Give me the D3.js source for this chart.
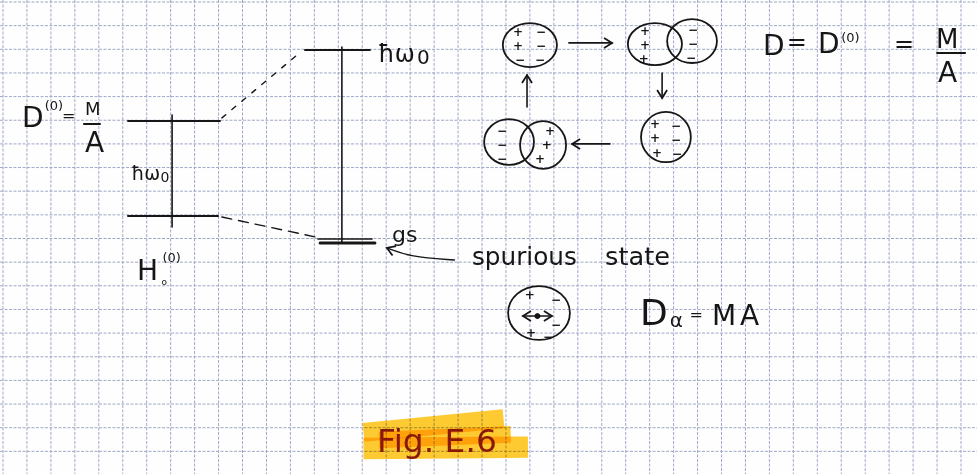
<!DOCTYPE html>
<html>
<head>
<meta charset="utf-8">
<script src="https://cdn.jsdelivr.net/npm/d3@7"></script>
<style>
  body { margin: 0; background: #fff; }
  text { font-family: "DejaVu Sans", "Noto Sans", sans-serif; fill: #161616; }
</style>
</head>
<body>
<svg id="chart" width="977" height="474"></svg>
<script>
// All values are in squares of the grid paper (x to the right, y downwards)

// energy levels of the two schemes
const levels = [
  { x1: 5.22, x2: 9.06, y: 5.03, weight: 2 },     // 1ħω0 of H0(0)
  { x1: 5.22, x2: 8.98, y: 9.05, weight: 2 },     // 0ħω of H0(0)
  { x1: 12.61, x2: 15.32, y: 2.03, weight: 2 },   // ħω0 after shift
  { x1: 13.15, x2: 15.41, y: 10.02, weight: 1.5 },// gs
  { x1: 13.24, x2: 15.53, y: 10.19, weight: 3 }   // gs (double)
];
// gaps ħω0 between levels
const gaps = [
  { x: 7.06, y1: 4.78, y2: 9.51 },
  { x: 14.15, y1: 1.90, y2: 10.19 }
];
// dashed connectors between the two schemes
const connectors = [
  { from: [9.14, 4.90], to: [12.28, 2.24], dash: "5,8" },
  { from: [9.14, 9.09], to: [13.07, 9.94], dash: "10,7" }
];

// the oscillating charge distribution cycle
const circles = [
  { cx: 22.00, cy: 1.82, rx: 1.13, ry: 0.93 },
  { cx: 27.22, cy: 1.78, rx: 1.13, ry: 0.89 },
  { cx: 28.77, cy: 1.65, rx: 1.04, ry: 0.93 },
  { cx: 27.68, cy: 5.71, rx: 1.04, ry: 1.06 },
  { cx: 21.13, cy: 5.92, rx: 1.04, ry: 0.97 },
  { cx: 22.55, cy: 6.05, rx: 0.96, ry: 1.01 },
  { cx: 22.38, cy: 13.15, rx: 1.29, ry: 1.14 }   // spurious state
];
const charges = [
  ["+", 21.50, 1.27], ["+", 21.50, 1.86], ["−", 21.59, 2.45],
  ["−", 22.46, 1.27], ["−", 22.46, 1.86], ["−", 22.42, 2.45],
  ["+", 26.81, 1.23], ["+", 26.81, 1.82], ["+", 26.76, 2.41],
  ["−", 28.81, 1.18], ["−", 28.81, 1.78], ["−", 28.73, 2.37],
  ["+", 27.22, 5.16], ["+", 27.22, 5.75], ["+", 27.31, 6.38],
  ["−", 28.10, 5.24], ["−", 28.10, 5.83], ["−", 28.14, 6.43],
  ["−", 20.84, 5.45], ["−", 20.84, 6.05], ["−", 20.84, 6.64],
  ["+", 22.84, 5.45], ["+", 22.71, 6.05], ["+", 22.42, 6.64],
  ["+", 22.00, 12.39], ["−", 23.09, 12.60], ["−", 23.09, 13.66],
  ["+", 22.05, 14.00], ["−", 22.76, 14.16]
];
const cycleArrows = [
  { from: [23.63, 1.73], to: [25.43, 1.73] },
  { from: [27.52, 3.00], to: [27.52, 4.06] },
  { from: [25.34, 6.00], to: [23.76, 6.00] },
  { from: [21.88, 4.44], to: [21.88, 3.09] }
];
// double arrow inside the spurious state
const dipole = { x1: 21.71, x2: 22.92, y: 13.28 };
// arrow from "spurious state" to gs
const pointer = [[18.85, 10.91], [16.99, 10.78], [16.03, 10.40]];

// fraction bars
const bars = [
  { x1: 3.38, x2: 4.05, y: 5.16 },
  { x1: 39.00, x2: 40.17, y: 2.16 }
];

// text pieces: text, x, baseline y, size class
const labels = [
  ["D", 0.79, 5.29, "big"], ["(0)", 1.74, 4.57, "sup"], ["=", 2.46, 5.03, "eq"],
  ["M", 3.42, 4.78, "num"], ["A", 3.42, 6.34, "den"],
  ["ħω", 5.35, 7.53, "hw"], ["0", 6.58, 7.61, "hw0"],
  ["H", 5.60, 11.75, "den"], ["o", 6.62, 11.97, "sub"], ["(0)", 6.66, 10.99, "sup"],
  ["ħω", 15.66, 2.54, "hwR"], ["0", 17.29, 2.62, "hwR0"],
  ["gs", 16.24, 10.15, "gs"],
  ["D", 26.60, 13.66, "huge"], ["α", 27.84, 13.74, "alpha"], ["=", 28.66, 13.45, "eq"],
  ["M", 29.60, 13.66, "den"], ["A", 30.77, 13.66, "den"],
  ["D", 31.73, 2.24, "den"], ["=", 32.72, 2.03, "eqW"], ["D", 34.03, 2.16, "den"],
  ["(0)", 35.00, 1.69, "sup"], ["=", 37.20, 2.11, "eqW"],
  ["M", 38.96, 1.95, "numR"], ["A", 39.04, 3.38, "den"]
];
const words = [
  ["spurious", 19.58, 11.12, 4.38], ["state", 25.14, 11.12, 2.71]
];
const caption = ["Fig. E.6", 15.62, 19.03, 5.0];
const highlight = [
  { from: [15.05, 18.20], to: [20.90, 17.62], w: 0.8 },
  { from: [15.05, 18.88], to: [21.92, 18.82], w: 0.9 },
  { from: [15.70, 18.52], to: [21.20, 18.28], w: 0.7 }
];

const sizes = {
  big: 28, sup: 13, eq: 16, num: 18, den: 28, hw: 19, hw0: 14, sub: 9,
  hwR: 24, hwR0: 20, gs: 22, huge: 36, alpha: 20, eqW: 24, numR: 26
};

const width = 977, height = 474;
const cellW = 23.95, cellH = 23.65;
const gx = d3.scaleLinear().domain([0, 40]).range([3, 3 + 40 * cellW]);
const gy = d3.scaleLinear().domain([0, 20]).range([2, 2 + 20 * cellH]);
const ink = "#161616";

const svg = d3.select("#chart");
svg.append("rect").attr("width", width).attr("height", height).attr("fill", "#fefefe");

// arrowhead (open chevron)
svg.append("defs").append("marker")
    .attr("id", "head")
    .attr("viewBox", "-10 -6 12 12")
    .attr("markerWidth", 12).attr("markerHeight", 12)
    .attr("markerUnits", "userSpaceOnUse")
    .attr("orient", "auto-start-reverse")
    .append("path")
    .attr("d", "M-8,-5 L0,0 L-8,5")
    .attr("fill", "none").attr("stroke", ink).attr("stroke-width", 1.8);

// grid paper
const grid = svg.append("g").attr("stroke", "#7f8bb5").attr("stroke-width", 1)
    .attr("stroke-dasharray", "3,1.5").attr("opacity", 0.75);
grid.selectAll(".v").data(d3.range(0, 41)).join("line")
    .attr("x1", d => gx(d)).attr("x2", d => gx(d))
    .attr("y1", 0).attr("y2", height);
grid.selectAll(".h").data(d3.range(0, 21)).join("line")
    .attr("y1", d => gy(d)).attr("y2", d => gy(d))
    .attr("x1", 0).attr("x2", width);

// highlighter behind caption
svg.append("g").selectAll("line").data(highlight).join("line")
    .attr("x1", d => gx(d.from[0])).attr("y1", d => gy(d.from[1]))
    .attr("x2", d => gx(d.to[0])).attr("y2", d => gy(d.to[1]))
    .attr("stroke", "#ffc20e").attr("stroke-width", d => d.w * cellH)
    .attr("opacity", 0.85).style("mix-blend-mode", "multiply");

const draw = svg.append("g").attr("stroke", ink).attr("fill", "none").attr("stroke-linecap", "round");

draw.selectAll(".level").data(levels).join("line")
    .attr("x1", d => gx(d.x1)).attr("x2", d => gx(d.x2))
    .attr("y1", d => gy(d.y)).attr("y2", d => gy(d.y))
    .attr("stroke-width", d => d.weight);

draw.selectAll(".gap").data(gaps).join("line")
    .attr("x1", d => gx(d.x)).attr("x2", d => gx(d.x))
    .attr("y1", d => gy(d.y1)).attr("y2", d => gy(d.y2))
    .attr("stroke-width", 1.6);

draw.selectAll(".conn").data(connectors).join("line")
    .attr("x1", d => gx(d.from[0])).attr("y1", d => gy(d.from[1]))
    .attr("x2", d => gx(d.to[0])).attr("y2", d => gy(d.to[1]))
    .attr("stroke-width", 1.4).attr("stroke-dasharray", d => d.dash);

draw.selectAll(".bar").data(bars).join("line")
    .attr("x1", d => gx(d.x1)).attr("x2", d => gx(d.x2))
    .attr("y1", d => gy(d.y)).attr("y2", d => gy(d.y))
    .attr("stroke-width", 2);

draw.selectAll("ellipse").data(circles).join("ellipse")
    .attr("cx", d => gx(d.cx)).attr("cy", d => gy(d.cy))
    .attr("rx", d => d.rx * cellW).attr("ry", d => d.ry * cellH)
    .attr("stroke-width", 1.8);

draw.selectAll(".arrow").data(cycleArrows).join("line")
    .attr("x1", d => gx(d.from[0])).attr("y1", d => gy(d.from[1]))
    .attr("x2", d => gx(d.to[0])).attr("y2", d => gy(d.to[1]))
    .attr("stroke-width", 1.6).attr("marker-end", "url(#head)");

draw.append("line")
    .attr("x1", gx(dipole.x1)).attr("x2", gx(dipole.x2))
    .attr("y1", gy(dipole.y)).attr("y2", gy(dipole.y))
    .attr("stroke-width", 1.5)
    .attr("marker-start", "url(#head)").attr("marker-end", "url(#head)");
draw.append("circle")
    .attr("cx", gx((dipole.x1 + dipole.x2) / 2)).attr("cy", gy(dipole.y))
    .attr("r", 2.5).attr("fill", ink);

draw.append("path")
    .attr("d", d3.line().x(d => gx(d[0])).y(d => gy(d[1])).curve(d3.curveBasis)(pointer))
    .attr("stroke-width", 1.3).attr("marker-end", "url(#head)");

// charges
svg.append("g").selectAll("text").data(charges).join("text")
    .attr("x", d => gx(d[1])).attr("y", d => gy(d[2]))
    .attr("text-anchor", "middle").attr("dominant-baseline", "central")
    .attr("font-size", 12).attr("font-weight", "bold").text(d => d[0]);

// formulas and labels
svg.append("g").selectAll("text").data(labels).join("text")
    .attr("x", d => gx(d[1])).attr("y", d => gy(d[2]))
    .attr("font-size", d => sizes[d[3]]).text(d => d[0]);

svg.append("g").selectAll("text").data(words).join("text")
    .attr("x", d => gx(d[1])).attr("y", d => gy(d[2]))
    .attr("font-size", 24)
    .attr("textLength", d => d[3] * cellW).attr("lengthAdjust", "spacingAndGlyphs")
    .text(d => d[0]);

svg.append("text")
    .attr("x", gx(caption[1])).attr("y", gy(caption[2]))
    .attr("font-size", 32).style("fill", "#8a1808")
    .attr("textLength", caption[3] * cellW).attr("lengthAdjust", "spacingAndGlyphs")
    .text(caption[0]);
</script>
</body>
</html>
